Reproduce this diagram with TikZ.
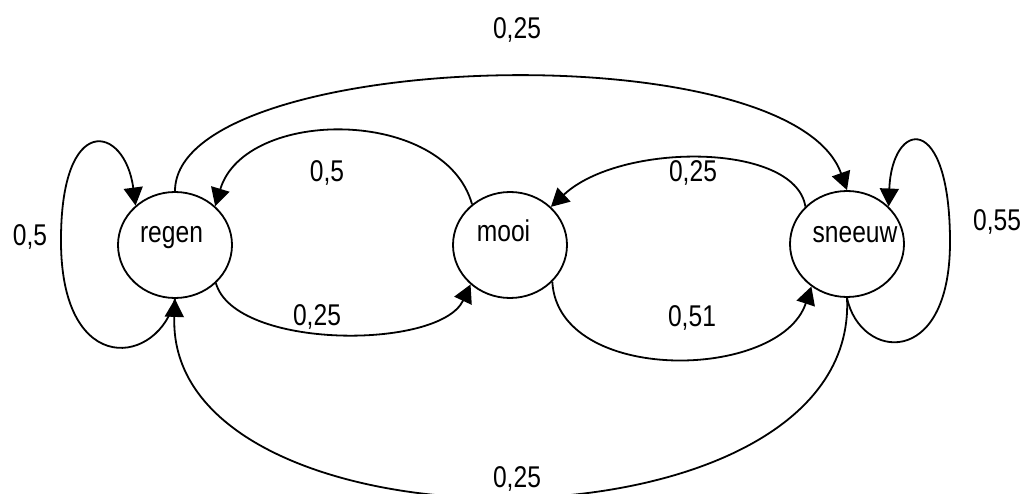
\documentclass[tikz,border=0pt]{standalone}
\usepackage{fontspec}
\setmainfont{Liberation Sans}[FakeStretch=0.82]
\usetikzlibrary{arrows.meta,shapes.geometric}
\begin{document}
\begin{tikzpicture}[x=1pt,y=-1pt,
  state/.style={draw,ellipse,line width=1.8pt,minimum width=114pt,minimum height=106pt,inner sep=0pt},
  edge/.style={draw,line width=1.8pt,-{Triangle[length=18pt,width=19pt]}},
  lbl/.style={anchor=base,inner sep=0pt,font=\fontsize{30}{36}\selectfont},
  txt/.style={anchor=base,inner sep=0pt,font=\fontsize{30}{36}\selectfont}]
\useasboundingbox (0,0) rectangle (1025,494);
\node[state] (regen) at (175,245) {};
\node[state] (mooi) at (510,245) {};
\node[state] (sneeuw) at (847,244) {};
\node[txt] (tregen) at (171.5,243) {regen};
\node[txt] (tmooi) at (503.5,242) {mooi};
\node[txt] (tsneeuw) at (855,243) {sneeuw};
% edges
\draw[edge] (regen.90) .. controls (175,50) and (790,30) .. (sneeuw.90);
\draw[edge] (mooi.133) .. controls (445,107) and (245,107) .. (regen.44);
\draw[edge] (sneeuw.138) .. controls (795,142) and (620,142) .. (mooi.43);
\draw[edge] (regen.-43) .. controls (235,350) and (440,350) .. (mooi.-135);
\draw[edge] (mooi.-41) .. controls (558,385) and (780,381) .. (sneeuw.-130);
\draw[edge] (sneeuw.-90) .. controls (860,562) and (165,562) .. (regen.-90);
\draw[edge] (regen.-90) .. controls (160,365) and (62,380) .. (61,243)
  .. controls (60,110) and (125,125) .. (regen.135);
\draw[edge] (sneeuw.-90) .. controls (860,360) and (950,370) .. (950,242)
  .. controls (950,110) and (892,120) .. (sneeuw.42);
% labels
\node[lbl] (l1) at (517,39) {0,25};
\node[lbl] (l2) at (327,182) {0,5};
\node[lbl] (l3) at (693,182) {0,25};
\node[lbl] (l4) at (30,246) {0,5};
\node[lbl] (l5) at (997,231) {0,55};
\node[lbl] (l6) at (317,325) {0,25};
\node[lbl] (l7) at (692,326) {0,51};
\node[lbl] (l8) at (517,487) {0,25};
\end{tikzpicture}
\end{document}
